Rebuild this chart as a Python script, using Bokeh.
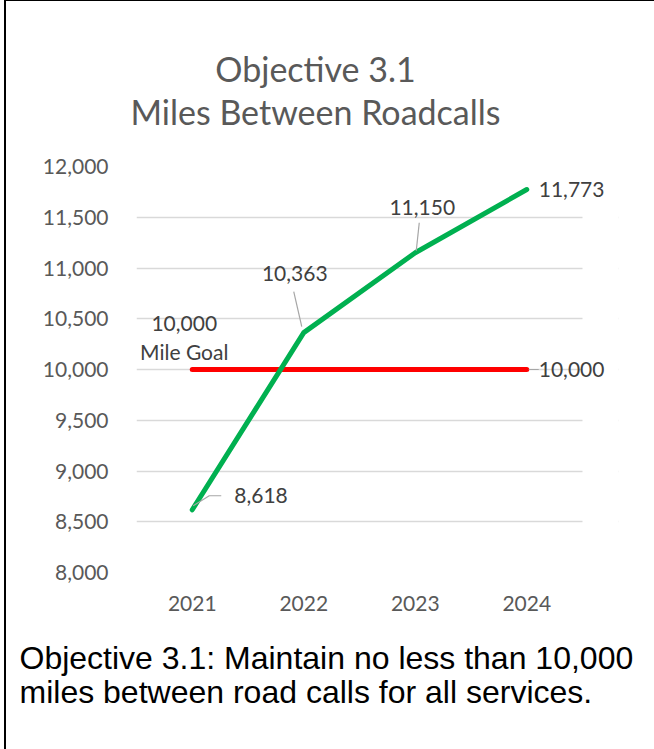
from bokeh.plotting import figure
from bokeh.layouts import column
from bokeh.models import Label, FixedTicker, NumeralTickFormatter, BoxAnnotation
from bokeh.embed import file_html
from bokeh.resources import INLINE

# ---- data ----
years = [2021, 2022, 2023, 2024]
miles = [8618, 10363, 11150, 11773]
goal_years = [2021, 2024]
goal_values = [10000, 10000]
y_ticks = [8000, 8500, 9000, 9500, 10000, 10500, 11000, 11500, 12000]
title_lines = ["Objective 3.1", "Miles Between Roadcalls"]
footer_lines = ["Objective 3.1: Maintain no less than 10,000",
                "miles between road calls for all services."]
goal_note = "10,000\nMile Goal"

GREEN = "#00b050"
RED = "#ff0000"
LBL = "#404040"
AX = "#595959"
FONT = "Lato"

W = 648
H_TITLE, H_MAIN, H_FOOT = 135, 495, 118


def text_panel(h):
    f = figure(width=W, height=h, x_range=(0, W), y_range=(0, h), min_border=0,
               x_axis_location=None, y_axis_location=None, output_backend="svg",
               toolbar_location=None, frame_align=False)
    f.grid.visible = False
    f.outline_line_color = None
    f.background_fill_color = "white"
    f.border_fill_color = "white"
    return f


# ---- title panel ----
pt = text_panel(H_TITLE)
for t, yy in zip(title_lines, [67, 110]):
    pt.add_layout(Label(x=309, y=H_TITLE - yy, text=t, text_align="center",
                        text_baseline="middle", text_font=FONT, text_font_size="34px",
                        text_color=AX))

# ---- main chart ----
FL, GR, FRT, FT, FB = 130, 576, 612, 30, 436
X0, X1 = 2020.5, 2024.5
px_per_year = (GR - FL) / (X1 - X0)
x_end = X1 + (FRT - GR) / px_per_year

p = figure(width=W, height=H_MAIN, x_range=(X0, x_end), y_range=(8000, 12000),
           min_border_left=FL, min_border_right=W - FRT, min_border_top=FT,
           min_border_bottom=H_MAIN - FB, output_backend="svg", toolbar_location=None,
           frame_align=False)
p.outline_line_color = None
p.background_fill_color = "white"
p.border_fill_color = "white"

p.yaxis.ticker = FixedTicker(ticks=y_ticks)
p.yaxis.formatter = NumeralTickFormatter(format="0,0")
p.xaxis.ticker = FixedTicker(ticks=years)
for ax in (p.xaxis[0], p.yaxis[0]):
    ax.axis_line_color = None
    ax.major_tick_line_color = None
    ax.minor_tick_line_color = None
    ax.major_tick_out = 0
    ax.major_tick_in = 0
    ax.major_label_text_font = FONT
    ax.major_label_text_font_size = "21px"
    ax.major_label_text_color = AX
p.yaxis.major_label_standoff = 28
p.xaxis.major_label_standoff = 23
p.xgrid.grid_line_color = None
p.ygrid.grid_line_color = "#d9d9d9"
p.ygrid.grid_line_width = 1.5
p.ygrid.ticker = FixedTicker(ticks=y_ticks)
# hide grid beyond the last category band (label area)
p.add_layout(BoxAnnotation(left=X1, fill_color="white", fill_alpha=1.0,
                           line_color=None, level="underlay"))

p.line(goal_years, goal_values, line_color=RED, line_width=5, line_cap="round")
p.line(years, miles, line_color=GREEN, line_width=5, line_cap="round", line_join="round")

units_per_px = 4000.0 / (FB - FT)
def dx(px): return px / px_per_year
def dy(px): return px * units_per_px
leaders = [
    ([years[0] + dx(1), years[0] + dx(17), years[0] + dx(29)],
     [miles[0] + dy(4), miles[0] + dy(14), miles[0] + dy(14)]),
    ([years[1] - dx(2), years[1] - dx(10)], [miles[1] + dy(6), miles[1] + dy(41)]),
    ([years[2] + dx(1), years[2] + dx(4)], [miles[2] + dy(2), miles[2] + dy(30)]),
    ([goal_years[1] + dx(2), goal_years[1] + dx(12)], [goal_values[1], goal_values[1]]),
]
for xs, ys in leaders:
    p.line(xs, ys, line_color="#a6a6a6", line_width=1.2)

fmt = lambda v: f"{v:,}"
lab_specs = [
    (years[0], miles[0], 42, 14, "left"),
    (years[1], miles[1], -9, 59, "center"),
    (years[2], miles[2], 7, 45, "center"),
    (years[3], miles[3], 12, 0, "left"),
]
for x, y, xo, yo, al in lab_specs:
    p.add_layout(Label(x=x, y=y, text=fmt(y), x_offset=xo, y_offset=yo, text_align=al,
                       text_baseline="middle", text_font=FONT, text_font_size="21px",
                       text_color=LBL))
p.add_layout(Label(x=goal_years[1], y=goal_values[1], text=fmt(goal_values[1]), x_offset=12,
                   y_offset=0, text_align="left", text_baseline="middle", text_font=FONT,
                   text_font_size="21px", text_color=LBL))
p.add_layout(Label(x=goal_years[0], y=goal_values[0], text=goal_note, x_offset=-8, y_offset=6,
                   text_align="center", text_baseline="bottom", text_font=FONT,
                   text_font_size="21px", text_color=LBL, text_line_height=1.15))

# ---- footer panel ----
pf = text_panel(H_FOOT)
for t, yy in zip(footer_lines, [26, 60]):
    pf.add_layout(Label(x=13, y=H_FOOT - yy, text=t, text_align="left",
                        text_baseline="middle", text_font="Liberation Sans",
                        text_font_size="32px", text_color="#000000"))

layout = column(pt, p, pf, spacing=0,
                styles={"margin-left": "4px", "border-left": "2px solid #000",
                        "border-top": "1px solid #000", "box-sizing": "content-box"})

open("out.html", "w").write(file_html(layout, INLINE))
